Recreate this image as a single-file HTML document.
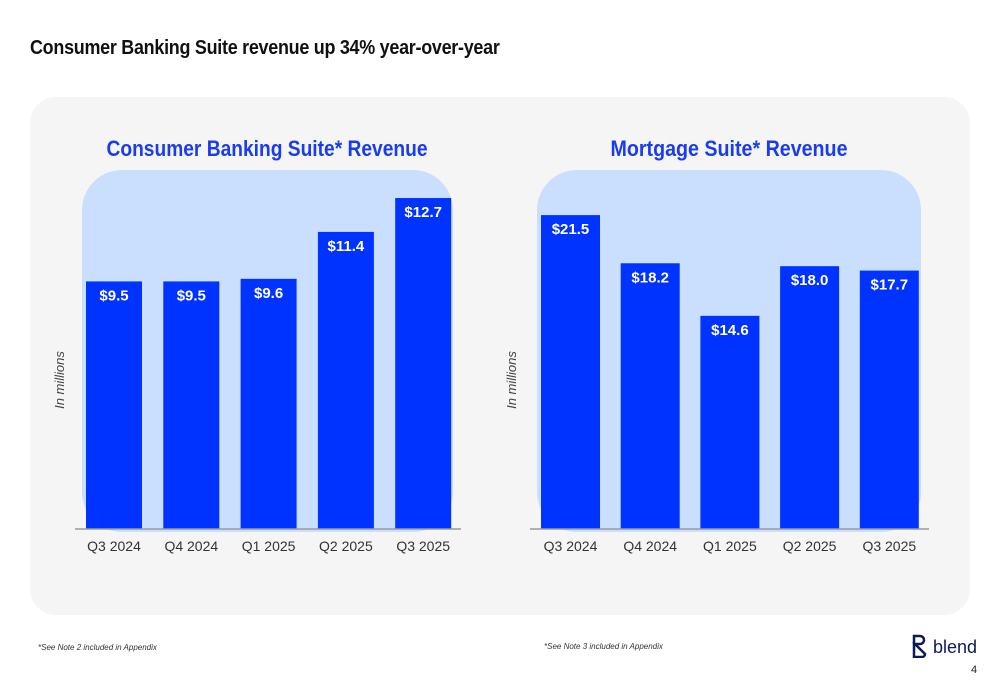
<!DOCTYPE html>
<html><head><meta charset="utf-8"><style>
body{margin:0;width:1000px;height:685px;background:#fff;font-family:"Liberation Sans",sans-serif;position:relative;overflow:hidden}
.abs{position:absolute}
</style></head><body>
<div class="abs" style="left:30px;top:37px;font-size:20px;font-weight:bold;color:#111;letter-spacing:-0.3px;transform:scaleX(0.897);transform-origin:left top;white-space:nowrap">Consumer Banking Suite revenue up 34% year-over-year</div>
<div class="abs" style="left:30px;top:97px;width:940px;height:518px;background:#f5f5f5;border-radius:26px"></div>
<svg class="abs" style="left:0;top:0" width="1000" height="685" id="svg"></svg>
<div class="abs" style="left:38px;top:643px;font-size:8px;font-style:italic;color:#333">*See Note 2 included in Appendix</div>
<div class="abs" style="left:544px;top:642px;font-size:8px;font-style:italic;color:#333">*See Note 3 included in Appendix</div>
<div class="abs" style="left:912px;top:634px;font-size:18px;color:#0b1a5a;">
<svg width="16" height="24" style="vertical-align:-5px" viewBox="0 0 16 24"><path d="M2 2h6a4 4 0 0 1 0 8H3l10 10a3 3 0 0 1-3 3H2z" fill="none" stroke="#0b1a5a" stroke-width="2.5"/></svg> blend</div>
<div class="abs" style="left:971px;top:664px;font-size:11px;color:#222">4</div>
<script>
const leftCats=["Q3 2024","Q4 2024","Q1 2025","Q2 2025","Q3 2025"];
const leftVals=[9.5,9.5,9.6,11.4,12.7];
const leftLabels=["$9.5","$9.5","$9.6","$11.4","$12.7"];
const rightCats=["Q3 2024","Q4 2024","Q1 2025","Q2 2025","Q3 2025"];
const rightVals=[21.5,18.2,14.6,18.0,17.7];
const rightLabels=["$21.5","$18.2","$14.6","$18.0","$17.7"];
const NS="http://www.w3.org/2000/svg",svg=document.getElementById('svg');
function mk(t,a,txt){const e=document.createElementNS(NS,t);for(const k in a)e.setAttribute(k,a[k]);if(txt!=null)e.textContent=txt;svg.appendChild(e);return e;}
function chart(o){
  const base=529;
  const y=v=>base-v*o.k;
  let e=mk('rect',{x:o.bgx,y:170,width:o.bgw,height:362,rx:40,fill:'#cadffe'});
  
  e=mk('text',{x:o.cx,y:156,'text-anchor':'middle','font-size':22,'font-weight':'bold',fill:'#1a3cf0',textLength:o.tl,lengthAdjust:'spacingAndGlyphs'},o.title);
  
  o.vals.forEach((v,i)=>{
    const x=o.x0+i*o.step;
    let r=mk('rect',{x:x,y:y(v),width:o.bw,height:base-y(v),fill:'#0033ff'});
    
    let t=mk('text',{x:x+o.bw/2,y:y(v)+19,'text-anchor':'middle','font-size':15,'font-weight':'bold',fill:'#fff'},o.labels[i]);
    
    let c=mk('text',{x:x+o.bw/2,y:551,'text-anchor':'middle','font-size':14,fill:'#333'},o.cats[i]);
    
  });
  e=mk('line',{x1:o.ax1,x2:o.ax2,y1:base,y2:base,stroke:'#999','stroke-width':1.5});
  
  e=mk('text',{x:o.yx,y:380,'text-anchor':'middle','font-size':13,'font-style':'italic',fill:'#444',transform:`rotate(-90 ${o.yx} 380)`},'In millions');
  
}
chart({id:'consumer',title:'Consumer Banking Suite* Revenue',cx:267,tl:321,bgx:82,bgw:371,x0:86,step:77.3,bw:56,k:26.06,vals:leftVals,labels:leftLabels,cats:leftCats,ax1:75,ax2:461,yx:64});
chart({id:'mortgage',title:'Mortgage Suite* Revenue',cx:729,tl:237,bgx:537,bgw:384,x0:541,step:79.7,bw:59,k:14.6,vals:rightVals,labels:rightLabels,cats:rightCats,ax1:530,ax2:929,yx:516});
</script>
</body></html>
